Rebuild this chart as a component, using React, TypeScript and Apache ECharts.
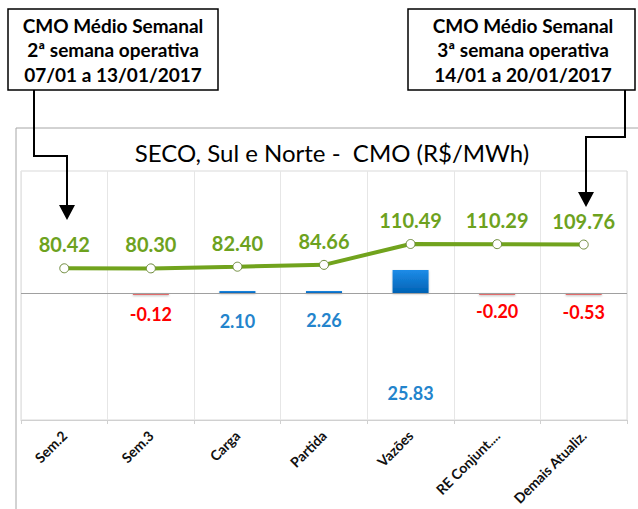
import React, { useEffect, useRef } from "react";
import * as echarts from "echarts";

const categories = ["Sem.2", "Sem.3", "Carga", "Partida", "Vazões", "RE Conjunt....", "Demais Atualiz."];
const cmoValues = [80.42, 80.3, 82.4, 84.66, 110.49, 110.29, 109.76];
const deltaValues: (number | null)[] = [null, -0.12, 2.1, 2.26, 25.83, -0.2, -0.53];
const deltaLabelGap = [0, 10, 19, 18, 91, 7, 8];

const titleText = "SECO, Sul e Norte -  CMO (R$/MWh)";
const leftBox = ["CMO Médio Semanal", "2ª semana operativa", "07/01 a 13/01/2017"];
const rightBox = ["CMO Médio Semanal", "3ª semana operativa", "14/01 a 20/01/2017"];

const FONT = "Lato, 'Open Sans', sans-serif";

export default function App() {
  const ref = useRef<HTMLDivElement>(null);
  useEffect(() => {
    document.body.style.margin = "0";
    if (!ref.current) return;
    const chart = echarts.init(ref.current, null, { renderer: "svg" });

    const barData = deltaValues.map((v, i) =>
      v === null
        ? null
        : {
            value: v,
            itemStyle: {
              color:
                v < 0
                  ? "#E36C6C"
                  : new echarts.graphic.LinearGradient(0, 0, 0, 1, [
                      { offset: 0, color: "#1E8CE8" },
                      { offset: 1, color: "#0062B4" },
                    ]),
            },
            label: {
              distance: deltaLabelGap[i],
              color: v < 0 ? "#FF0000" : "#2384CC",
            },
          }
    );

    const boxText = (lines: string[], cx: number) =>
      lines.map((t, i) => ({
        type: "text",
        x: cx,
        y: 25 + i * 24.5,
        style: {
          text: t,
          fill: "#000",
          font: `bold 19px ${FONT}`,
          textAlign: "center",
          textVerticalAlign: "middle",
        },
      }));

    chart.setOption({
      animation: false,
      backgroundColor: "#fff",
      title: {
        text: titleText,
        left: 327,
        top: 135,
        textAlign: "center",
        textStyle: { fontFamily: FONT, fontSize: 24, fontWeight: "normal", color: "#000" },
      },
      grid: {
        left: 21,
        top: 171,
        width: 606,
        height: 249,
        show: true,
        borderColor: "#D9D9D9",
        borderWidth: 1,
        containLabel: false,
      },
      xAxis: {
        type: "category",
        data: categories,
        boundaryGap: true,
        axisLine: { show: true, onZero: false, lineStyle: { color: "#D0D0D0", width: 1 } },
        axisTick: { show: true, length: 4, lineStyle: { color: "#D0D0D0" } },
        splitLine: { show: true, lineStyle: { color: "#E6E6E6" } },
        axisLabel: {
          rotate: 45,
          margin: 13,
          fontFamily: FONT,
          fontSize: 14,
          fontWeight: "bold",
          color: "#111",
          interval: 0,
        },
      },
      yAxis: [
        { type: "value", min: -107.3, max: 200.8, show: false, splitLine: { show: false } },
        { type: "value", min: -142.6, max: 137.0, show: false, splitLine: { show: false } },
      ],
      series: [
        {
          type: "bar",
          yAxisIndex: 1,
          data: barData,
          barWidth: 36,
          barMinHeight: 2,
          z: 2,
          itemStyle: { shadowColor: "rgba(0,0,0,0.25)", shadowBlur: 2, shadowOffsetY: 1 },
          label: {
            show: true,
            position: "bottom",
            fontFamily: FONT,
            fontSize: 18,
            fontWeight: "bold",
            formatter: (p: any) => (p.value == null ? "" : Number(p.value).toFixed(2)),
          },
          markLine: {
            silent: true,
            symbol: "none",
            label: { show: false },
            lineStyle: { color: "#A0A0A0", width: 1, type: "solid" },
            data: [{ yAxis: 0 }],
          },
        },
        {
          type: "line",
          yAxisIndex: 0,
          data: cmoValues,
          z: 5,
          lineStyle: { color: "#71A31D", width: 4 },
          symbol: "circle",
          symbolSize: 9,
          itemStyle: { color: "#fff", borderColor: "#6D8A3A", borderWidth: 1 },
          label: {
            show: true,
            position: "top",
            distance: 9,
            fontFamily: FONT,
            fontSize: 20,
            fontWeight: "bold",
            color: "#6DA21E",
            formatter: (p: any) => Number(p.value).toFixed(2),
          },
        },
      ],
      graphic: [
        // outer chart frame
        { type: "line", shape: { x1: 16, y1: 128, x2: 638, y2: 128 }, style: { stroke: "#A6A6A6", lineWidth: 1 } },
        { type: "line", shape: { x1: 16, y1: 128, x2: 16, y2: 509 }, style: { stroke: "#A6A6A6", lineWidth: 1 } },
        // boxes
        { type: "rect", shape: { x: 8, y: 9, width: 210, height: 81 }, style: { fill: "#fff", stroke: "#000", lineWidth: 1.5 } },
        { type: "rect", shape: { x: 408, y: 9, width: 227, height: 81 }, style: { fill: "#fff", stroke: "#000", lineWidth: 1.5 } },
        ...boxText(leftBox, 113),
        ...boxText(rightBox, 523),
        // left arrow
        {
          type: "polyline",
          shape: { points: [[34, 90], [34, 156], [67, 156], [67, 206]] },
          style: { stroke: "#000", lineWidth: 2, fill: null },
        },
        { type: "polygon", shape: { points: [[59, 205], [75, 205], [67, 220]] }, style: { fill: "#000" } },
        // right arrow
        {
          type: "polyline",
          shape: { points: [[625, 90], [625, 137], [586, 137], [586, 193]] },
          style: { stroke: "#000", lineWidth: 2, fill: null },
        },
        { type: "polygon", shape: { points: [[578, 192], [594, 192], [586, 207]] }, style: { fill: "#000" } },
      ],
    });
    return () => chart.dispose();
  }, []);
  return <div ref={ref} style={{ width: 638, height: 509 }} />;
}
